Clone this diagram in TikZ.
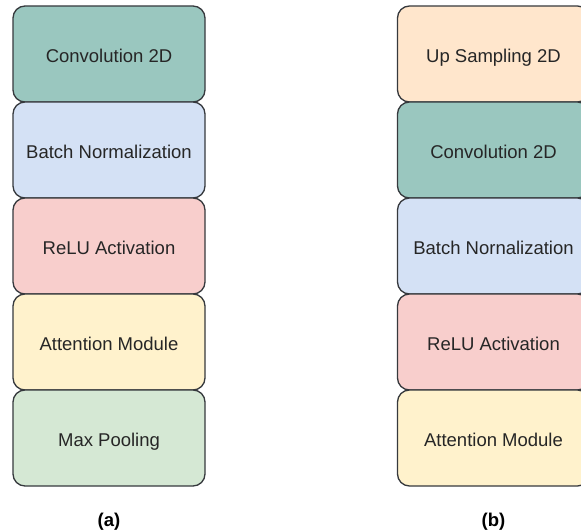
\documentclass[tikz,border=0pt]{standalone}
\usepackage{fontspec}
\setmainfont{Liberation Sans}
\usetikzlibrary{positioning}
\definecolor{convfill}{HTML}{9AC7BF}
\definecolor{normfill}{HTML}{D4E1F5}
\definecolor{relufill}{HTML}{F8CECC}
\definecolor{attnfill}{HTML}{FFF2CC}
\definecolor{poolfill}{HTML}{D5E8D4}
\definecolor{upfill}{HTML}{FFE6CC}
\definecolor{edgecol}{HTML}{36393D}
\begin{document}
\begin{tikzpicture}[
    x=1pt, y=-1pt,
    node distance=0pt,
    every node/.style={font=\fontsize{18.5}{22}\selectfont, text=black!85},
    layer/.style={rectangle, rounded corners=12pt, minimum width=192pt, minimum height=96pt, inner sep=0pt, outer sep=0pt, text height=17pt, text depth=0pt, draw=edgecol, line width=1.3pt},
    caption/.style={font=\fontsize{18.5}{22}\selectfont\bfseries, text=black}
]
    \useasboundingbox (0,0) rectangle (581,532);
    % (a) encoder block
    \node[layer, fill=convfill] (conva) at (109,54) {Convolution 2D};
    \node[layer, fill=normfill, below=of conva] (norma) {Batch Normalization};
    \node[layer, fill=relufill, below=of norma] (relua) {ReLU Activation};
    \node[layer, fill=attnfill, below=of relua] (attna) {Attention Module};
    \node[layer, fill=poolfill, below=of attna] (poola) {Max Pooling};
    \node[caption] (capa) at (109,522) {(a)};
    % (b) decoder block
    \node[layer, fill=upfill] (upb) at (493.5,54) {Up Sampling 2D};
    \node[layer, fill=convfill, below=of upb] (convb) {Convolution 2D};
    \node[layer, fill=normfill, below=of convb] (normb) {Batch Nornalization};
    \node[layer, fill=relufill, below=of normb] (relub) {ReLU Activation};
    \node[layer, fill=attnfill, below=of relub] (attnb) {Attention Module};
    \node[caption] (capb) at (493.5,522) {(b)};
\end{tikzpicture}
\end{document}
